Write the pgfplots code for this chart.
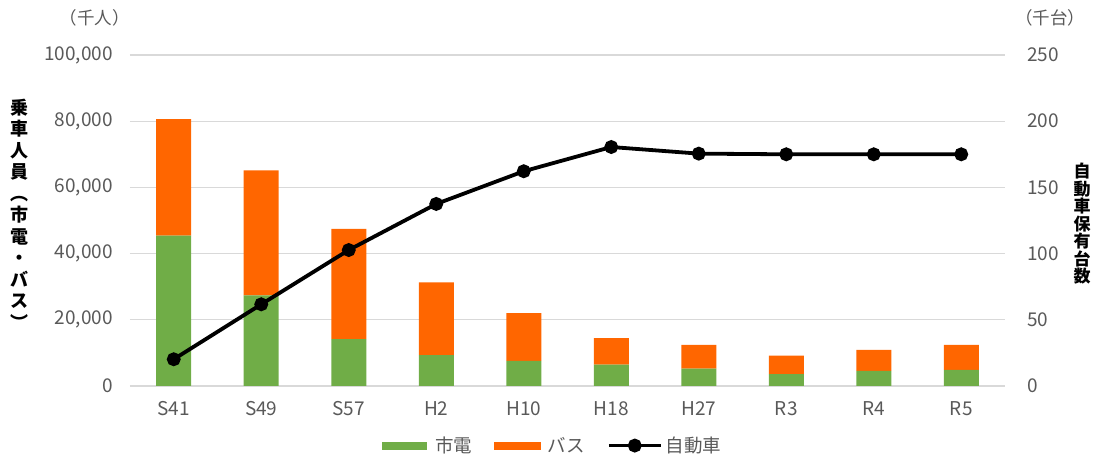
\documentclass[border=0pt]{standalone}
\usepackage{fontspec}
\setmainfont{Noto Sans CJK JP}
\usepackage{pgfplots}
\pgfplotsset{compat=1.18}
\definecolor{cgreen}{HTML}{70AD47}
\definecolor{corange}{HTML}{FF6600}
\definecolor{cgrid}{HTML}{D9D9D9}
\definecolor{ctext}{HTML}{595959}
\newcommand{\tfont}{\fontsize{19}{19}\selectfont}
\newcommand{\lfont}{\fontsize{18.5}{18.5}\selectfont}
\begin{document}
\begin{tikzpicture}
\path[use as bounding box] (-130pt,-71pt) rectangle (963pt,386pt);
\begin{axis}[
  at={(0pt,0pt)}, anchor=south west,
  scale only axis, width=875pt, height=331pt,
  ymin=0, ymax=100000, ytick={0,20000,40000,60000,80000,100000},
  yticklabels={0,{20,000},{40,000},{60,000},{80,000},{100,000}},
  xmin=-0.5, xmax=9.5, xtick={0,...,9},
  xticklabels={S41,S49,S57,H2,H10,H18,H27,R3,R4,R5},
  ybar stacked, bar width=35pt,
  axis line style={draw=none},
  major tick length=0pt,
  ymajorgrids, grid style={cgrid, line width=1.2pt},
  scaled y ticks=false,
  tick label style={font=\tfont, text=ctext, inner sep=0pt},
  yticklabel style={xshift=-17pt},
  xticklabel style={yshift=-15pt},
]
\addplot[fill=cgreen, draw=none] coordinates {(0,45450) (1,27400) (2,14150) (3,9300) (4,7600) (5,6450) (6,5250) (7,3550) (8,4550) (9,4850)};
\addplot[fill=corange, draw=none] coordinates {(0,35150) (1,37750) (2,33330) (3,22000) (4,14430) (5,8000) (6,7170) (7,5650) (8,6350) (9,7570)};
\end{axis}
\begin{axis}[
  at={(0pt,0pt)}, anchor=south west,
  scale only axis, width=875pt, height=331pt,
  ymin=0, ymax=250, ytick={0,50,100,150,200,250},
  yticklabels={0,50,100,150,200,250},
  xmin=-0.5, xmax=9.5,
  axis x line=none, axis y line*=right,
  axis line style={draw=none},
  major tick length=0pt,
  tick label style={font=\tfont, text=ctext, inner sep=0pt},
  yticklabel style={xshift=22pt},
  legend columns=3,
  legend style={at={(0.483,-0.18)}, anchor=center, draw=none, fill=none,
    font=\lfont, text=ctext, inner sep=0pt,
    /tikz/every odd column/.append style={column sep=1pt},
    /tikz/every even column/.append style={column sep=20pt}},
  legend cell align=left,
]
\addlegendimage{legend image code/.code={\fill[cgreen] (0pt,-3.5pt) rectangle (44pt,3.5pt); \path (50pt,0pt);}}
\addlegendimage{legend image code/.code={\fill[corange] (0pt,-3.5pt) rectangle (46pt,3.5pt); \path (50pt,0pt);}}
\addplot[black, line width=3.8pt, mark=*, mark size=5pt,
  legend image code/.code={\draw[black, line width=3.8pt] (0pt,0pt) -- (52pt,0pt); \fill[black] (26pt,0pt) circle (5pt);}]
  coordinates {(0,20.2) (1,61.7) (2,102.7) (3,137.5) (4,162.2) (5,180.5) (6,175.5) (7,175) (8,175) (9,175)};
\legend{市電, バス, 自動車}
\end{axis}
\node[font=\fontsize{17.5}{17.5}\selectfont, text=ctext] at (-35pt,368pt) {（千人）};
\node[font=\fontsize{17.5}{17.5}\selectfont, text=ctext] at (920pt,368pt) {（千台）};
\node[font=\fontsize{18}{21.5}\selectfont\bfseries, align=center, inner sep=0pt] at (-110pt,172pt)
  {乗\\車\\人\\員\\︵\\市\\電\\・\\バ\\ス\\︶};
\node[font=\fontsize{17}{17.5}\selectfont\bfseries, align=center, inner sep=0pt] at (952pt,162pt)
  {自\\動\\車\\保\\有\\台\\数};
\end{tikzpicture}
\end{document}
